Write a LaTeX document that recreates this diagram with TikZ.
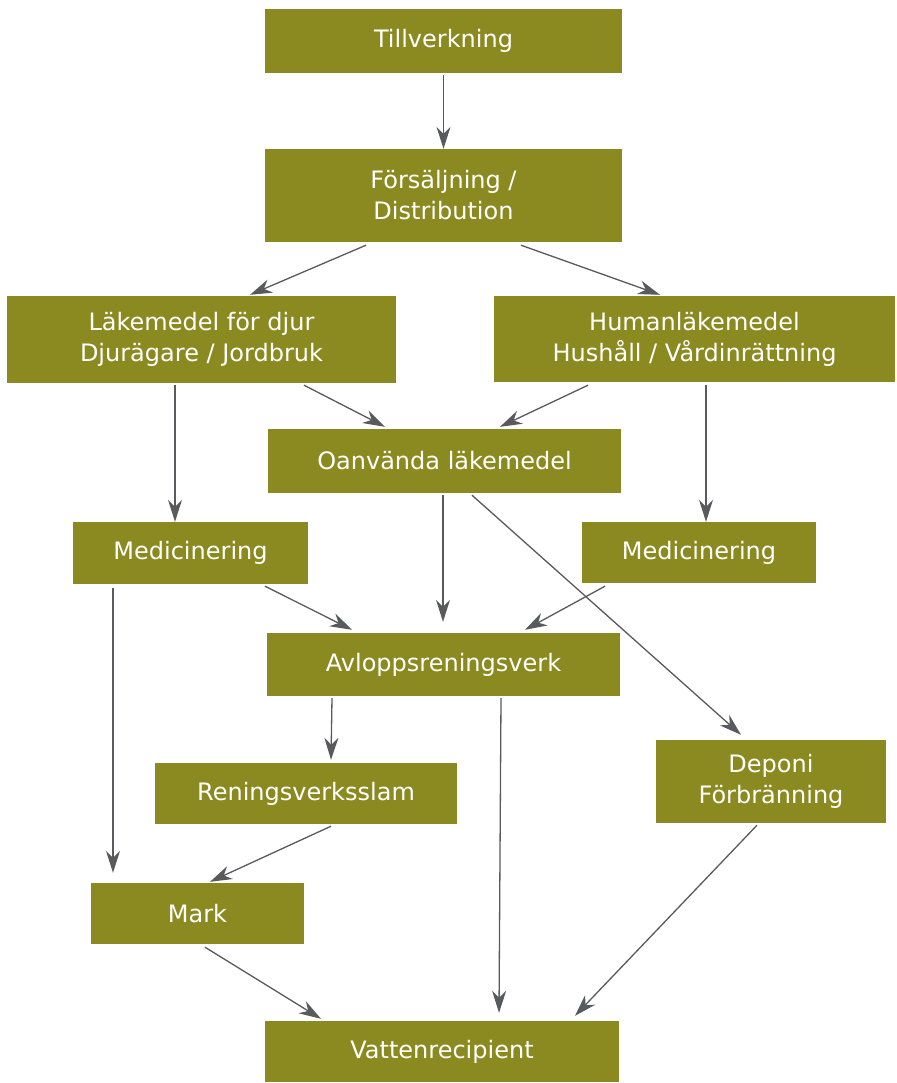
\documentclass[tikz,border=0pt]{standalone}
\usepackage{fontspec}
\setmainfont{DejaVu Sans}
\usetikzlibrary{arrows.meta,calc}
\definecolor{boxcol}{HTML}{8A8A20}
\definecolor{arrcol}{HTML}{595A5E}
\tikzset{
  box/.style={fill=boxcol,draw=none,text=white,inner sep=0pt,align=center,
    font=\fontsize{24}{31}\selectfont},
  conn/.style={draw=arrcol,line width=1.3pt,-{Stealth[length=22pt,width=14pt,inset=7pt]}}
}
\begin{document}
\begin{tikzpicture}[x=1pt,y=-1pt]
\useasboundingbox (0,0) rectangle (896,1083);
\fill[white] (0,0) rectangle (896,1083);
\node[box,minimum width=357pt,minimum height=64pt] (till) at (443.5,41) {Tillverkning};
\node[box,minimum width=357pt,minimum height=93pt] (fors) at (443.5,195.5) {Försäljning /\\Distribution};
\node[box,minimum width=389pt,minimum height=87pt] (lak) at (201.5,339.5) {Läkemedel för djur\\Djurägare / Jordbruk};
\node[box,minimum width=401pt,minimum height=86pt] (hum) at (694.5,339) {Humanläkemedel\\Hushåll / Vårdinrättning};
\node[box,minimum width=353pt,minimum height=64pt] (oan) at (444.5,461) {Oanvända läkemedel};
\node[box,minimum width=235pt,minimum height=62pt] (medl) at (190.5,553) {Medicinering};
\node[box,minimum width=234pt,minimum height=61pt] (medr) at (699,552.5) {Medicinering};
\node[box,minimum width=353pt,minimum height=63pt] (avl) at (443.5,664.5) {Avloppsreningsverk};
\node[box,minimum width=302pt,minimum height=61pt] (ren) at (306,793.5) {Reningsverksslam};
\node[box,minimum width=230pt,minimum height=83pt] (dep) at (771,781.5) {Deponi\\Förbränning};
\node[box,minimum width=213pt,minimum height=61pt] (mark) at (197.5,913.5) {Mark};
\node[box,minimum width=354pt,minimum height=61pt] (vat) at (442,1051.5) {Vattenrecipient};

\draw[conn] ([yshift=-2pt]till.south) -- (fors.north);
\draw[conn] ([xshift=-77.5pt,yshift=-3pt]fors.south) -- ([xshift=48.5pt,yshift=1pt]lak.north);
\draw[conn] ([xshift=77.5pt,yshift=-3pt]fors.south) -- ([xshift=-34.5pt,yshift=1pt]hum.north);
\draw[conn] ([xshift=102.5pt,yshift=-2pt]lak.south) -- ([xshift=-59.5pt,yshift=2pt]oan.north);
\draw[conn] ([xshift=-106.5pt,yshift=-3pt]hum.south) -- ([xshift=55.5pt,yshift=2pt]oan.north);
\draw[conn] ([xshift=-26.5pt,yshift=-2pt]lak.south) -- ([xshift=-15.5pt,yshift=0pt]medl.north);
\draw[conn] ([xshift=11.5pt,yshift=-3pt]hum.south) -- ([xshift=7pt,yshift=0pt]medr.north);
\draw[conn] ([xshift=-1.5pt,yshift=-2pt]oan.south) -- ([xshift=-0.5pt,yshift=11pt]avl.north);
\draw[conn] ([xshift=27.5pt,yshift=-2pt]oan.south) -- ([xshift=-30pt,yshift=5pt]dep.north);
\draw[conn] ([xshift=74.5pt,yshift=-2pt]medl.south) -- ([xshift=-91.5pt,yshift=3pt]avl.north);
\draw[conn] ([xshift=-94pt,yshift=-3pt]medr.south) -- ([xshift=81.5pt,yshift=3pt]avl.north);
\draw[conn] ([xshift=-77.5pt,yshift=-4pt]medl.south) -- ([xshift=-84.5pt,yshift=10pt]mark.north);
\draw[conn] ([xshift=-111.5pt,yshift=-2pt]avl.south) -- ([xshift=25pt,yshift=3pt]ren.north);
\draw[conn] ([xshift=57.5pt,yshift=-2pt]avl.south) -- ([xshift=57pt,yshift=8pt]vat.north);
\draw[conn] ([xshift=25pt,yshift=-2pt]ren.south) -- ([xshift=12.5pt,yshift=1pt]mark.north);
\draw[conn] ([xshift=7.5pt,yshift=-3pt]mark.south) -- ([xshift=-121pt,yshift=2pt]vat.north);
\draw[conn] ([xshift=-14pt,yshift=-2pt]dep.south) -- ([xshift=133pt,yshift=5pt]vat.north);
\end{tikzpicture}
\end{document}
